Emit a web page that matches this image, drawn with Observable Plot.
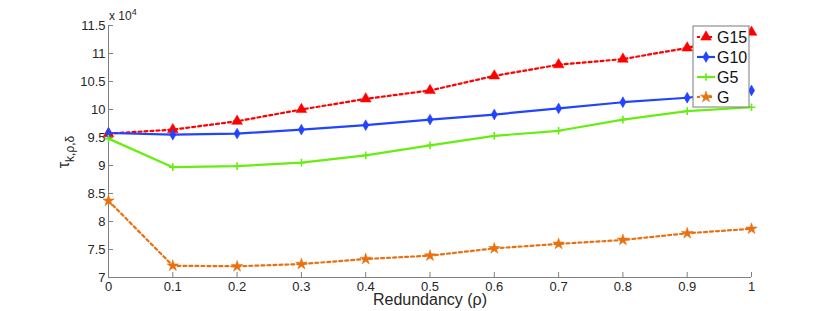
<!DOCTYPE html>
<html>
<head>
<meta charset="utf-8">
<script src="https://cdn.jsdelivr.net/npm/d3@7"></script>
<script src="https://cdn.jsdelivr.net/npm/@observablehq/plot@0.6"></script>
<style>
  html, body { margin: 0; padding: 0; background: #fff; }
  #chart { position: relative; width: 830px; height: 311px; }
</style>
</head>
<body>
<div id="chart"></div>
<script>
// Redundancy values (x axis)
const rho = [0, 0.1, 0.2, 0.3, 0.4, 0.5, 0.6, 0.7, 0.8, 0.9, 1.0];
// Series values (in units of 10^4)
const G15 = [9.57, 9.64, 9.79, 10.00, 10.19, 10.34, 10.60, 10.80, 10.90, 11.10, 11.38];
const G10 = [9.58, 9.55, 9.57, 9.64, 9.72, 9.82, 9.91, 10.02, 10.13, 10.21, 10.34];
const G5  = [9.48, 8.97, 8.99, 9.05, 9.18, 9.36, 9.53, 9.62, 9.82, 9.97, 10.04];
const G   = [8.37, 7.21, 7.20, 7.24, 7.33, 7.39, 7.52, 7.60, 7.67, 7.79, 7.87];
const seriesNames = ["G15", "G10", "G5", "G"];
const xTicks = [0, 0.1, 0.2, 0.3, 0.4, 0.5, 0.6, 0.7, 0.8, 0.9, 1];
const yTicks = [7, 7.5, 8, 8.5, 9, 9.5, 10, 10.5, 11, 11.5];

const styles = {
  G15: {color: "#ff0000", dash: "3,3", symbol: "triangle", r: 4, stroke: false},
  G10: {color: "#2244ff", dash: null, symbol: "diamond", r: 3.3, stroke: false},
  G5:  {color: "#66ee11", dash: null, symbol: "plus", r: 2.6, stroke: true},
  G:   {color: "#e8700f", dash: "3,3", symbol: "star", r: 3.6, stroke: false}
};
const values = {G15, G10, G5, G};
const data = seriesNames.flatMap(s => rho.map((x, i) => ({series: s, x, y: values[s][i]})));

const lineMarks = [];
for (const s of seriesNames) {
  const st = styles[s];
  const d = data.filter(v => v.series === s);
  lineMarks.push(Plot.line(d, {x: "x", y: "y", stroke: st.color, strokeWidth: 2.2, strokeDasharray: st.dash}));
}
const dotMarks = [];
for (const s of seriesNames) {
  const st = styles[s];
  const d = data.filter(v => v.series === s);
  dotMarks.push(st.stroke
    ? Plot.dot(d, {x: "x", y: "y", symbol: st.symbol, r: st.r, stroke: st.color, strokeWidth: 1.6})
    : Plot.dot(d, {x: "x", y: "y", symbol: st.symbol, r: st.r, fill: st.color, stroke: st.color, strokeWidth: 0.5}));
}

const fmt = d => String(+d.toFixed(2));
const axisColor = "#808080";
const textColor = "#262626";
const plot = Plot.plot({
  width: 830, height: 311,
  marginLeft: 108, marginRight: 79, marginTop: 25, marginBottom: 34,
  style: {fontFamily: "'Liberation Sans', Arial, sans-serif", fontSize: "13px", color: textColor, background: "white"},
  x: {domain: [0, 1], label: null},
  y: {domain: [7, 11.5], label: null},
  marks: [
    Plot.ruleX([0], {stroke: axisColor}),
    Plot.ruleY([7], {stroke: axisColor}),
    Plot.axisX({ticks: xTicks, tickFormat: fmt, tickSize: -5, tickPadding: 9, stroke: axisColor, fill: textColor, label: null, fontSize: 13}),
    Plot.axisY({ticks: yTicks, tickFormat: fmt, tickSize: -5, tickPadding: 8, stroke: axisColor, fill: textColor, label: null, fontSize: 13}),
    ...lineMarks,
    ...dotMarks
  ]
});
document.getElementById("chart").appendChild(plot);

const svg = d3.select(plot);
const font = "'Liberation Sans', Arial, sans-serif";
// exponent label
const ex = svg.append("text").attr("x", 109).attr("y", 20).attr("text-anchor", "start").attr("font-family", font)
  .attr("font-size", 12).attr("fill", textColor);
ex.append("tspan").text("x 10");
ex.append("tspan").attr("dy", -5).attr("font-size", 9).text("4");
// x label
svg.append("text").attr("x", 430).attr("y", 305).attr("text-anchor", "middle")
  .attr("font-family", font).attr("font-size", 16).attr("fill", textColor).text("Redundancy (ρ)");
// y label
const yl = svg.append("text").attr("transform", "translate(69,152) rotate(-90)")
  .attr("text-anchor", "middle").attr("font-family", font).attr("font-size", 16).attr("fill", textColor);
yl.append("tspan").text("τ");
yl.append("tspan").attr("dy", 5).attr("font-size", 12).text("k,ρ,δ");

// legend
const lg = svg.append("g");
const lx = 693, ly = 26, lw = 56, lh = 81;
lg.append("rect").attr("x", lx).attr("y", ly).attr("width", lw).attr("height", lh)
  .attr("fill", "white").attr("stroke", "#7a7a7a").attr("stroke-width", 1);
seriesNames.forEach((s, i) => {
  const st = styles[s];
  const cy = ly + 11 + i * 20;
  lg.append("line").attr("x1", lx + 4).attr("x2", lx + 22).attr("y1", cy).attr("y2", cy)
    .attr("stroke", st.color).attr("stroke-width", 2.2).attr("stroke-dasharray", st.dash);
  const symMap = {triangle: d3.symbolTriangle, diamond: d3.symbolDiamond, plus: d3.symbolPlus, star: d3.symbolStar};
  const p = lg.append("path").attr("transform", `translate(${lx + 13},${cy})`)
    .attr("d", d3.symbol(symMap[st.symbol], Math.PI * st.r * st.r)());
  if (st.stroke) p.attr("fill", "none").attr("stroke", st.color).attr("stroke-width", 1.6);
  else p.attr("fill", st.color).attr("stroke", st.color).attr("stroke-width", 0.5);
  lg.append("text").attr("x", lx + 24).attr("y", cy).attr("dy", "0.36em").attr("text-anchor", "start")
    .attr("font-family", font).attr("font-size", 16).attr("fill", "#111").text(s);
});
</script>
</body>
</html>
